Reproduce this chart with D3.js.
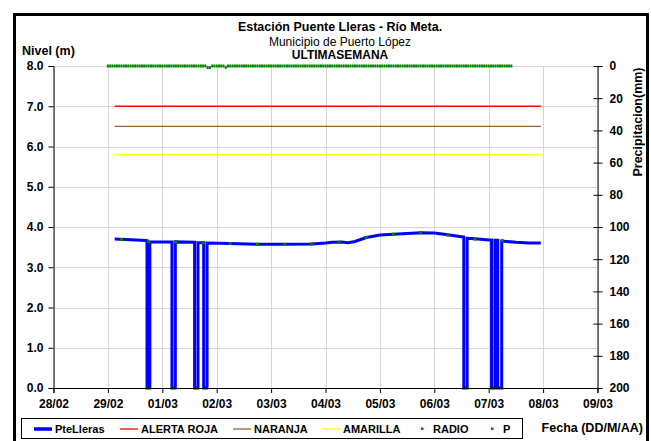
<!DOCTYPE html>
<html>
<head>
<meta charset="utf-8">
<script src="https://cdn.jsdelivr.net/npm/d3@7"></script>
<style>
  body { margin: 0; background: #fff; }
  svg { display: block; font-family: "Liberation Sans", Arial, sans-serif; }
</style>
</head>
<body>
<div id="chart"></div>
<script>
// ---------------- DATA ----------------
const titulo = "Estación Puente Lleras - Río Meta.";
const subtitulo = "Municipio de Puerto López";
const periodo = "ULTIMASEMANA";

const fechasEje = ["28/02","29/02","01/03","02/03","03/03","04/03","05/03","06/03","07/03","08/03","09/03"];
const nivelTicks = [0,1,2,3,4,5,6,7,8];
const precipTicks = [0,20,40,60,80,100,120,140,160,180,200];

// PteLleras level (m) - breakpoints incl. data gaps (drops to 0)
const nivelFechas = [
  "2016-02-29 03:00","2016-02-29 15:00","2016-02-29 17:15","2016-02-29 17:15","2016-02-29 18:30","2016-02-29 18:30",
  "2016-03-01 04:15","2016-03-01 04:15","2016-03-01 05:45","2016-03-01 05:45",
  "2016-03-01 14:15","2016-03-01 14:15","2016-03-01 15:45","2016-03-01 15:45",
  "2016-03-01 18:15","2016-03-01 18:15","2016-03-01 19:45","2016-03-01 19:45",
  "2016-03-02 06:00","2016-03-02 18:00","2016-03-03 06:00","2016-03-03 18:00",
  "2016-03-04 00:00","2016-03-04 03:00","2016-03-04 07:00","2016-03-04 10:00","2016-03-04 13:00",
  "2016-03-04 18:00","2016-03-05 00:00","2016-03-05 06:00","2016-03-05 12:00","2016-03-05 18:00",
  "2016-03-06 00:00","2016-03-06 06:00","2016-03-06 12:00",
  "2016-03-06 13:00","2016-03-06 13:00","2016-03-06 14:30","2016-03-06 14:30",
  "2016-03-06 18:00","2016-03-07 00:00",
  "2016-03-07 01:15","2016-03-07 01:15","2016-03-07 02:45","2016-03-07 02:45",
  "2016-03-07 04:00","2016-03-07 04:00","2016-03-07 05:45","2016-03-07 05:45",
  "2016-03-07 12:00","2016-03-07 18:00","2016-03-07 23:00"
];
const nivelValores = [
  3.70,3.67,3.66,0,0,3.63,
  3.63,0,0,3.63,
  3.62,0,0,3.61,
  3.61,0,0,3.60,
  3.59,3.57,3.57,3.58,
  3.60,3.62,3.63,3.61,3.64,
  3.74,3.80,3.82,3.84,3.86,
  3.85,3.81,3.76,
  3.75,0,0,3.72,
  3.71,3.68,
  3.68,0,0,3.67,
  3.67,0,0,3.65,
  3.62,3.60,3.60
];

// RADIO readings (m)
const radioFechas = [
  "2016-02-29 06:00","2016-02-29 18:00","2016-03-01 06:00","2016-03-01 18:00","2016-03-02 06:00",
  "2016-03-02 18:00","2016-03-03 06:00","2016-03-03 18:00","2016-03-04 06:00","2016-03-04 18:00",
  "2016-03-05 06:00","2016-03-05 18:00","2016-03-06 06:00","2016-03-06 18:00","2016-03-07 06:00"
];
const radioValores = [3.69,3.63,3.63,3.61,3.59,3.57,3.57,3.58,3.62,3.74,3.82,3.86,3.80,3.70,3.66];

// Alert thresholds (m)
const alertaRoja = 7.0;
const alertaNaranja = 6.5;
const alertaAmarilla = 5.8;
const alertaDesde = "2016-02-29 03:00";
const alertaHasta = "2016-03-07 23:00";

// Hourly precipitation P (mm), starting 29/02 00:00
const precipInicio = "2016-02-29 00:00";
const precipValores = [
  0,0,0,0,0,0,0,0,0,0,0,0,0,0,0,0,0,0,0,0,0,0,0,0,
  0,0,0,0,0,0,0,0,0,0,0,0,0,0,0,0,0,0,0,0,1.0,1.0,0,0,
  0,0,0,0,0.8,0,0,0,0,0,0,0,0,0,0,0,0,0,0,0,0,0,0,0,
  0,0,0,0,0,0,0,0,0,0,0,0,0,0,0,0,0,0,0,0,0,0,0,0,
  0,0,0,0,0,0,0,0,0,0,0,0,0,0,0,0,0,0,0,0,0,0,0,0,
  0,0,0,0,0,0,0,0,0,0,0,0,0,0,0,0,0,0,0,0,0,0,0,0,
  0,0,0,0,0,0,0,0,0,0,0,0,0,0,0,0,0,0,0,0,0,0,0,0,
  0,0,0,0,0,0,0,0,0,0,0
];

const leyenda = ["PteLleras","ALERTA ROJA","NARANJA","AMARILLA","RADIO","P"];

// ---------------- CHART ----------------
const W = 651, H = 441;
const parse = d3.timeParse("%Y-%m-%d %H:%M");
const L = 53.5, R = 597.5, T = 66, B = 388;

const svg = d3.select("#chart").append("svg").attr("width", W).attr("height", H);
svg.append("rect").attr("width", W).attr("height", H).attr("fill", "#fff");

// outer frame
svg.append("rect").attr("x", 14.5).attr("y", 14.5).attr("width", 633).attr("height", 440)
  .attr("fill", "none").attr("stroke", "#000").attr("stroke-width", 3);

const x = d3.scaleTime().domain([parse("2016-02-28 00:00"), parse("2016-03-09 00:00")]).range([L, R]);
const y = d3.scaleLinear().domain([0, 8]).range([B, T]);
const y2 = d3.scaleLinear().domain([0, 200]).range([T, B]);

const dayTicks = d3.timeDay.range(parse("2016-02-28 00:00"), parse("2016-03-09 01:00"));

// gridlines
const grid = svg.append("g").attr("stroke", "#d6d6d6").attr("stroke-width", 1);
nivelTicks.forEach(v => grid.append("line").attr("x1", L).attr("x2", R).attr("y1", Math.round(y(v)) + 0.5).attr("y2", Math.round(y(v)) + 0.5));
dayTicks.forEach(d => grid.append("line").attr("x1", Math.round(x(d)) + 0.5).attr("x2", Math.round(x(d)) + 0.5).attr("y1", T).attr("y2", B));

// threshold lines
const a0 = parse(alertaDesde), a1 = parse(alertaHasta);
[[alertaRoja, "#ff0000"], [alertaNaranja, "#a0602a"], [alertaAmarilla, "#ffff00"]].forEach(([v, c]) => {
  svg.append("line").attr("x1", x(a0)).attr("x2", x(a1)).attr("y1", y(v)).attr("y2", y(v))
    .attr("stroke", c).attr("stroke-width", 1.3);
});

// precipitation points
const p0 = parse(precipInicio);
const precip = precipValores.map((v, i) => ({ t: d3.timeHour.offset(p0, i), v }));
svg.append("g").selectAll("rect").data(precip).join("rect")
  .attr("x", d => x(d.t) - 1).attr("y", d => y2(d.v) - 1.5)
  .attr("width", 2).attr("height", 3).attr("fill", "#008000");

// level line
const nivel = nivelFechas.map((f, i) => ({ t: parse(f), v: nivelValores[i] }));
svg.append("path").datum(nivel)
  .attr("d", d3.line().x(d => x(d.t)).y(d => y(d.v)))
  .attr("fill", "none").attr("stroke", "#0000ff").attr("stroke-width", 3).attr("stroke-linejoin", "miter");

// radio points
const radio = radioFechas.map((f, i) => ({ t: parse(f), v: radioValores[i] }));
svg.append("g").selectAll("rect").data(radio).join("rect")
  .attr("x", d => x(d.t) - 1.5).attr("y", d => y(d.v) - 1.5)
  .attr("width", 3).attr("height", 3).attr("fill", "#008000");

// axes
const axFont = g => g.selectAll("text").attr("font-size", 12).attr("font-weight", "bold").attr("fill", "#000")
  .attr("font-family", "Liberation Sans, Arial, sans-serif");

const gL = svg.append("g").attr("transform", `translate(${L},0)`)
  .call(d3.axisLeft(y).tickValues(nivelTicks).tickFormat(d3.format(".1f")).tickSize(5).tickPadding(5));
gL.call(axFont);

const gR = svg.append("g").attr("transform", `translate(${R},0)`)
  .call(d3.axisRight(y2).tickValues(precipTicks).tickSize(5).tickPadding(7));
gR.call(axFont);
svg.append("g").attr("transform", `translate(${R},0)`)
  .call(d3.axisLeft(y2).tickValues(precipTicks).tickSize(4).tickFormat(""))
  .call(g => g.select(".domain").remove());

const gB = svg.append("g").attr("transform", `translate(0,${B})`)
  .call(d3.axisBottom(x).tickValues(dayTicks).tickFormat((d, i) => fechasEje[i]).tickSize(5).tickPadding(6));
gB.call(axFont);
[gL, gR, gB].forEach(g => g.select(".domain").attr("stroke", "#000"));

// titles
const txt = (s, xx, yy, size, weight, anchor) => svg.append("text").text(s).attr("x", xx).attr("y", yy)
  .attr("font-size", size).attr("font-weight", weight).attr("text-anchor", anchor || "middle").attr("fill", "#000");
txt(titulo, 340, 31, 12.5, "bold");
txt(subtitulo, 340, 46, 12, "normal");
txt(periodo, 340, 59, 12, "bold");
txt("Nivel (m)", 22, 55, 12.5, "bold", "start");
txt("Fecha (DD/M/AA)", 643, 432, 12.5, "bold", "end");
svg.append("text").text("Precipitacion(mm)").attr("transform", "translate(642,122) rotate(-90)")
  .attr("text-anchor", "middle").attr("font-size", 12.5).attr("font-weight", "bold");

// legend
const lg = svg.append("g");
lg.append("rect").attr("x", 21.5).attr("y", 418.5).attr("width", 501).attr("height", 20)
  .attr("fill", "#fff").attr("stroke", "#000").attr("stroke-width", 1);
const items = [
  { name: leyenda[0], type: "line", color: "#0000ff", w: 3.5, x: 34 },
  { name: leyenda[1], type: "line", color: "#ff0000", w: 1.3, x: 120 },
  { name: leyenda[2], type: "line", color: "#a0602a", w: 1.3, x: 233 },
  { name: leyenda[3], type: "line", color: "#ffff00", w: 1.3, x: 322 },
  { name: leyenda[4], type: "dot", color: "#008000", x: 422 },
  { name: leyenda[5], type: "dot", color: "#008000", x: 492 }
];
const ly = 429;
items.forEach(it => {
  if (it.type === "line") {
    lg.append("line").attr("x1", it.x).attr("x2", it.x + 18).attr("y1", ly).attr("y2", ly)
      .attr("stroke", it.color).attr("stroke-width", it.w);
    lg.append("text").text(it.name).attr("x", it.x + 21).attr("y", ly + 4)
      .attr("font-size", 11).attr("font-weight", "bold");
  } else {
    lg.append("rect").attr("x", it.x - 1).attr("y", ly - 1.5).attr("width", 2.5).attr("height", 2.5).attr("fill", it.color);
    lg.append("text").text(it.name).attr("x", it.x + 11).attr("y", ly + 4)
      .attr("font-size", 11).attr("font-weight", "bold");
  }
});
</script>
</body>
</html>
